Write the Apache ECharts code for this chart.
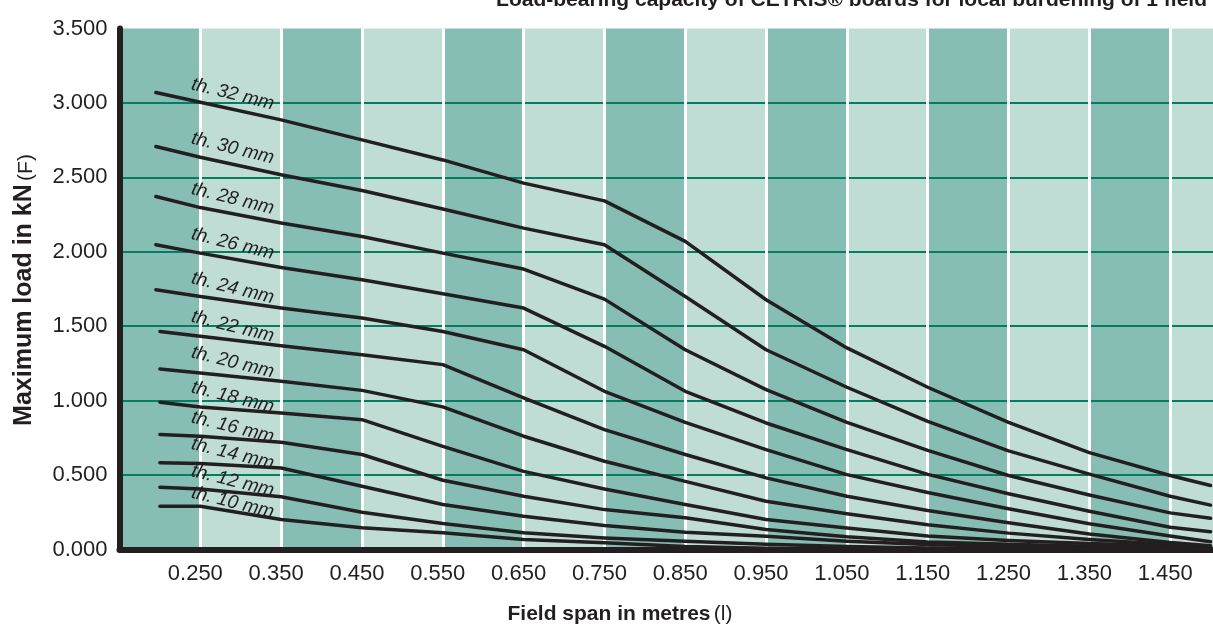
<!DOCTYPE html>
<html><head><meta charset="utf-8">
<script src="https://cdn.jsdelivr.net/npm/echarts@6/dist/echarts.min.js"></script>
<style>html,body{margin:0;padding:0;background:#fff}#c{width:1213px;height:630px}</style>
</head><body><div id="c"></div>
<script>
// ---- data ----
const thicknesses = [32, 30, 28, 26, 24, 22, 20, 18, 16, 14, 12, 10];
const startSpans = [0.195, 0.195, 0.195, 0.195, 0.195, 0.2, 0.2, 0.2, 0.2, 0.2, 0.2, 0.2];
const spans = [0.25, 0.35, 0.45, 0.55, 0.65, 0.75, 0.85, 0.95, 1.05, 1.15, 1.25, 1.35, 1.45, 1.50];
const load32 = [3.07, 3.005, 2.886, 2.752, 2.617, 2.461, 2.342, 2.07, 1.678, 1.354, 1.09, 0.854, 0.651, 0.497, 0.43];
const load30 = [2.707, 2.635, 2.517, 2.412, 2.287, 2.159, 2.047, 1.70, 1.342, 1.09, 0.861, 0.663, 0.506, 0.358, 0.298];
const load28 = [2.371, 2.297, 2.193, 2.103, 1.991, 1.884, 1.682, 1.342, 1.074, 0.854, 0.666, 0.497, 0.366, 0.246, 0.21];
const load26 = [2.047, 1.991, 1.895, 1.812, 1.718, 1.622, 1.365, 1.063, 0.850, 0.671, 0.505, 0.375, 0.257, 0.15, 0.12];
const load24 = [1.745, 1.700, 1.622, 1.555, 1.465, 1.342, 1.063, 0.854, 0.671, 0.503, 0.383, 0.274, 0.173, 0.091, 0.052];
const load22 = [1.465, 1.432, 1.369, 1.309, 1.242, 1.018, 0.805, 0.638, 0.481, 0.358, 0.262, 0.179, 0.104, 0.047, 0.025];
const load20 = [1.213, 1.186, 1.130, 1.069, 0.958, 0.761, 0.593, 0.458, 0.324, 0.24, 0.167, 0.11, 0.067, 0.034, 0.02];
const load18 = [0.989, 0.958, 0.917, 0.872, 0.693, 0.525, 0.407, 0.302, 0.201, 0.145, 0.09, 0.06, 0.04, 0.022, 0.012];
const load16 = [0.772, 0.760, 0.720, 0.638, 0.465, 0.358, 0.268, 0.213, 0.134, 0.085, 0.05, 0.035, 0.022, 0.012, 0.006];
const load14 = [0.582, 0.577, 0.548, 0.425, 0.302, 0.224, 0.161, 0.116, 0.089, 0.056, 0.034, 0.02, 0.01, 0.004, 0];
const load12 = [0.418, 0.407, 0.354, 0.250, 0.174, 0.112, 0.078, 0.056, 0.035, 0.02, 0.01, 0.004, 0, 0, 0];
const load10 = [0.291, 0.291, 0.201, 0.146, 0.112, 0.067, 0.045, 0.02, 0.008, 0, 0, 0, 0, 0, 0];
const loads = [load32, load30, load28, load26, load24, load22, load20, load18, load16, load14, load12, load10];

const titleText = 'Load-bearing capacity of CETRIS® boards for local burdening of 1 field';
const yTitleBold = 'Maximum load in kN';
const yTitleNormal = '(F)';
const xTitleBold = 'Field span in metres';
const xTitleNormal = '(l)';

// ---- styles ----
const FONT = '"Liberation Sans", Arial, Helvetica, sans-serif';
const INK = '#231f20';
const DARK = '#86beb4';
const LIGHT = '#c0ddd5';
const GREEN = '#067c60';

const series = thicknesses.map((t, i) => ({
  type: 'line',
  name: 'th. ' + t + ' mm',
  data: [startSpans[i]].concat(spans).map((x, k) => [x, loads[i][k]]),
  symbol: 'none',
  smooth: false,
  lineStyle: { color: INK, width: 3.5, cap: 'round', join: 'round' },
  z: 5,
  silent: true,
  animation: false
}));

const option = {
  animation: false,
  backgroundColor: '#ffffff',
  grid: { left: 119.5, right: 0, top: 28.5, bottom: 80.5, outerBoundsMode: 'none', containLabel: false },
  xAxis: [
    {
      type: 'value', min: 0.15, max: 1.503, interval: 0.1, z: 3,
      axisLine: { show: true, onZero: false, lineStyle: { color: INK, width: 6 } },
      axisTick: { show: false },
      axisLabel: {
        show: true, margin: 13, color: INK, fontFamily: FONT, fontSize: 22,
        padding: [0, 10, 0, 0],
        formatter: v => (v < 0.2 || v > 1.46) ? '' : v.toFixed(3)
      },
      splitLine: { show: true, showMinLine: false, showMaxLine: false, lineStyle: { color: '#ffffff', width: 3 } },
      splitArea: { show: false }
    },
    {
      type: 'value', min: 0.15, max: 1.503, interval: 0.1, z: 0, position: 'top',
      axisLine: { show: false }, axisTick: { show: false }, axisLabel: { show: false },
      splitLine: { show: false },
      splitArea: { show: true, areaStyle: { color: [DARK, LIGHT] } }
    }
  ],
  yAxis: {
    type: 'value', min: 0, max: 3.5, interval: 0.5, z: 1,
    axisLine: { show: true, onZero: false, lineStyle: { color: INK, width: 6 } },
    axisTick: { show: false },
    axisLabel: { show: true, margin: 12, color: INK, fontFamily: FONT, fontSize: 22, formatter: v => v.toFixed(3) },
    splitLine: { show: true, showMinLine: false, showMaxLine: false, lineStyle: { color: GREEN, width: 2 } }
  },
  series: series
};

const chart = echarts.init(document.getElementById('c'), null, { renderer: 'canvas' });
chart.setOption(option);

// labels along lines
const labelX = 0.29;
const labelOffsets = [-15, -16, -15, -15, -13, -13.5, -14, -12, -11.5, -11.5, -11, -9];
function interp(data, x) {
  for (let k = 0; k < data.length - 1; k++) {
    if (x >= data[k][0] && x <= data[k + 1][0]) {
      const f = (x - data[k][0]) / (data[k + 1][0] - data[k][0]);
      return data[k][1] + f * (data[k + 1][1] - data[k][1]);
    }
  }
  return data[0][1];
}
const graphics = [];
series.forEach((s, i) => {
  const v = interp(s.data, labelX);
  const p = chart.convertToPixel({ seriesIndex: i }, [labelX, v]);
  graphics.push({
    type: 'text', x: p[0], y: p[1] + labelOffsets[i], rotation: -14 * Math.PI / 180, z: 10,
    style: { text: s.name, font: 'italic 19px ' + FONT, fill: INK, align: 'center', verticalAlign: 'middle' }
  });
});
graphics.push({
  type: 'text', x: 1207, y: 0, z: 10,
  style: { text: titleText, font: 'bold 21px ' + FONT, fill: INK, align: 'right', verticalAlign: 'middle' }
});
graphics.push({
  type: 'text', x: 24, y: 290, rotation: Math.PI / 2, z: 10,
  style: {
    text: '{b|' + yTitleBold + '} {n|' + yTitleNormal + '}',
    align: 'center', verticalAlign: 'middle', fill: INK,
    rich: {
      b: { font: 'bold 25px ' + FONT, fill: INK, verticalAlign: 'bottom' },
      n: { font: '21px ' + FONT, fill: INK, verticalAlign: 'bottom' }
    }
  }
});
graphics.push({
  type: 'text', x: 620, y: 614, z: 10,
  style: {
    text: '{b|' + xTitleBold + '} {n|' + xTitleNormal + '}',
    align: 'center', verticalAlign: 'middle', fill: INK,
    rich: { b: { font: 'bold 21px ' + FONT, fill: INK }, n: { font: '21px ' + FONT, fill: INK } }
  }
});
chart.setOption({ graphic: graphics });
</script>
</body></html>
